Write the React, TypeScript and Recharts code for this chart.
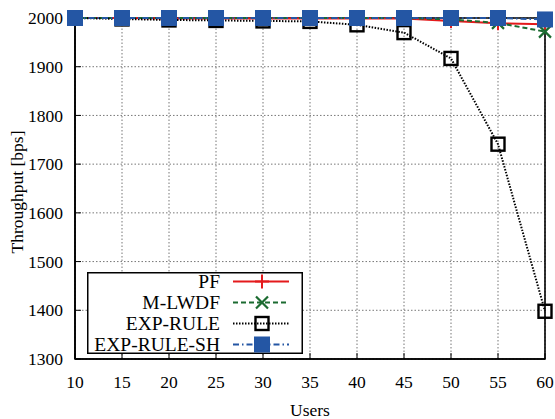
import React from 'react';
import { LineChart, Line, XAxis, YAxis, CartesianGrid, Legend, ReferenceArea } from 'recharts';

const users = [10, 15, 20, 25, 30, 35, 40, 45, 50, 55, 60];
const pf = [2000, 2000, 1999, 1999, 1999, 1999, 1999, 1999, 1994, 1989, 1987];
const mlwdf = [2000, 2000, 2000, 2000, 2000, 2000, 2000, 2000, 1997, 1990, 1972];
const expRule = [2000, 1998, 1996, 1995, 1994, 1993, 1986, 1970, 1917, 1741, 1398];
const expRuleSh = [2000, 2000, 2000, 2000, 2000, 2000, 2000, 2000, 2000, 2000, 1997];
const xTicks = [10, 15, 20, 25, 30, 35, 40, 45, 50, 55, 60];
const yTicks = [1300, 1400, 1500, 1600, 1700, 1800, 1900, 2000];

const data = users.map((u, i) => ({
  users: u,
  pf: pf[i],
  mlwdf: mlwdf[i],
  expRule: expRule[i],
  expRuleSh: expRuleSh[i],
}));

const FONT = '"Liberation Serif", "DejaVu Serif", serif';
const RED = '#e41a1c';
const GREEN = '#1b6b30';
const BLUE = '#2456a4';

const marker = (kind: string, color: string, cx: number, cy: number, key?: string) => {
  if (kind === 'plus') {
    return <path key={key} d={`M${cx - 7},${cy}h14M${cx},${cy - 7}v14`} stroke={color} strokeWidth={2} fill="none" />;
  }
  if (kind === 'cross') {
    return <path key={key} d={`M${cx - 6},${cy - 6}L${cx + 6},${cy + 6}M${cx - 6},${cy + 6}L${cx + 6},${cy - 6}`} stroke={color} strokeWidth={2.2} fill="none" />;
  }
  if (kind === 'box') {
    return <rect key={key} x={cx - 6.5} y={cy - 6.5} width={13} height={13} stroke={color} strokeWidth={2.4} fill="none" />;
  }
  return <rect key={key} x={cx - 8} y={cy - 8} width={16} height={16} fill={color} stroke="none" />;
};

const series = [
  { key: 'pf', name: 'PF', color: RED, dash: undefined, kind: 'plus' },
  { key: 'mlwdf', name: 'M-LWDF', color: GREEN, dash: '5 3', kind: 'cross' },
  { key: 'expRule', name: 'EXP-RULE', color: '#000', dash: '1.5 1.5', kind: 'box' },
  { key: 'expRuleSh', name: 'EXP-RULE-SH', color: BLUE, dash: '6 3 1.5 3', kind: 'square' },
];

const renderLegend = () => (
  <svg width={216} height={82} style={{ display: 'block' }}>
    <rect x={0.75} y={0.75} width={214.5} height={80.5} fill="#fff" stroke="#000" strokeWidth={1.5} />
    {series.map((s, i) => {
      const y = 9.5 + i * 21;
      return (
        <g key={s.key}>
          <text x={133} y={y + 6.5} textAnchor="end" fontFamily={FONT} fontSize={19.5} fill="#000">
            {s.name}
          </text>
          <line x1={146} x2={202} y1={y} y2={y} stroke={s.color} strokeWidth={2} strokeDasharray={s.dash} />
          {marker(s.kind, s.color, 175, y)}
        </g>
      );
    })}
  </svg>
);

const App: React.FC = () => {
  return (
    <div style={{ position: 'absolute', left: 0, top: 0, width: 555, height: 419, background: '#fff' }}>
      <LineChart width={555} height={419} data={data} margin={{ top: 18, right: 10, left: 0, bottom: 0 }}>
        <CartesianGrid stroke="#777" strokeDasharray="1.5 2" strokeWidth={1} />
        <ReferenceArea x1={10} x2={60} y1={1300} y2={2000} fill="none" stroke="#000" strokeWidth={1.6} />
        <XAxis
          dataKey="users"
          type="number"
          domain={[10, 60]}
          ticks={xTicks}
          height={60}
          axisLine={{ stroke: '#000', strokeWidth: 1.6 }}
          tickLine={{ stroke: '#000' }}
          tickSize={-6}
          tickMargin={23}
          tick={{ fill: '#000', fontFamily: FONT, fontSize: 17.5 }}
          label={{
            content: () => (
              <text x={310} y={416} textAnchor="middle" fontFamily={FONT} fontSize={17.5} fill="#000">
                Users
              </text>
            ),
          }}
        />
        <YAxis
          type="number"
          domain={[1300, 2000]}
          ticks={yTicks}
          width={75}
          axisLine={{ stroke: '#000', strokeWidth: 1.6 }}
          tickLine={{ stroke: '#000' }}
          tickSize={-6}
          tickMargin={18}
          tick={{ fill: '#000', fontFamily: FONT, fontSize: 17.5 }}
          label={{
            content: () => (
              <text
                x={23}
                y={192}
                transform="rotate(-90, 23, 192)"
                textAnchor="middle"
                fontFamily={FONT}
                fontSize={17.5}
                fill="#000"
              >
                Throughput [bps]
              </text>
            ),
          }}
        />
        <Legend
          content={renderLegend}
          layout="horizontal"
          verticalAlign="middle"
          align="center"
          wrapperStyle={{ left: 87, top: 272, width: 216, height: 82 }}
        />
        {series.map((s) => (
          <Line
            key={s.key}
            dataKey={s.key}
            name={s.name}
            type="linear"
            stroke={s.color}
            strokeWidth={2}
            strokeDasharray={s.dash}
            dot={(p: any) => marker(s.kind, s.color, p.cx, p.cy, `${s.key}-${p.index}`)}
            activeDot={false}
            isAnimationActive={false}
          />
        ))}
      </LineChart>
    </div>
  );
};

export default App;
